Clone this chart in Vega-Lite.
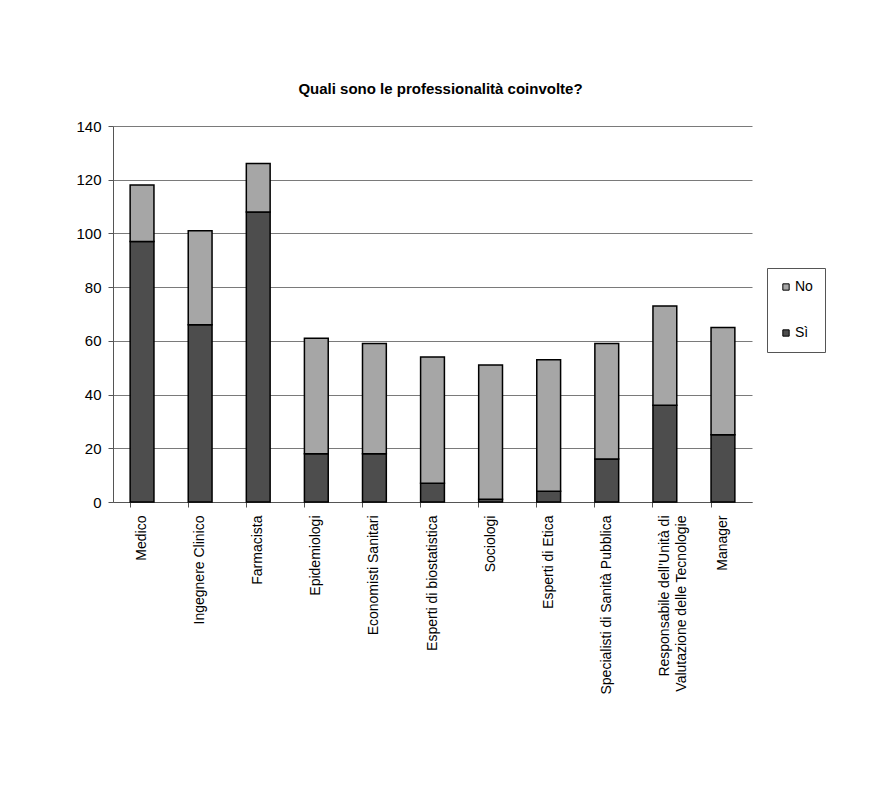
{
  "$schema": "https://vega.github.io/schema/vega-lite/v6.json",
  "autosize": {"type": "none"},
  "width": 639,
  "height": 376,
  "padding": {"left": 113, "top": 126, "right": 122, "bottom": 291},
  "background": "white",
  "title": {
    "text": "Quali sono le professionalità coinvolte?",
    "font": "Liberation Sans",
    "fontSize": 15,
    "fontWeight": "bold",
    "color": "black",
    "anchor": "middle",
    "offset": 22,
    "dx": 8
  },
  "config": {
    "view": {"stroke": null},
    "font": "Liberation Sans"
  },
  "data": {
    "values": [
      {"categoria": "Medico", "serie": "Sì", "valore": 97},
      {"categoria": "Medico", "serie": "No", "valore": 21},
      {"categoria": "Ingegnere Clinico", "serie": "Sì", "valore": 66},
      {"categoria": "Ingegnere Clinico", "serie": "No", "valore": 35},
      {"categoria": "Farmacista", "serie": "Sì", "valore": 108},
      {"categoria": "Farmacista", "serie": "No", "valore": 18},
      {"categoria": "Epidemiologi", "serie": "Sì", "valore": 18},
      {"categoria": "Epidemiologi", "serie": "No", "valore": 43},
      {"categoria": "Economisti Sanitari", "serie": "Sì", "valore": 18},
      {"categoria": "Economisti Sanitari", "serie": "No", "valore": 41},
      {"categoria": "Esperti di biostatistica", "serie": "Sì", "valore": 7},
      {"categoria": "Esperti di biostatistica", "serie": "No", "valore": 47},
      {"categoria": "Sociologi", "serie": "Sì", "valore": 1},
      {"categoria": "Sociologi", "serie": "No", "valore": 50},
      {"categoria": "Esperti di Etica", "serie": "Sì", "valore": 4},
      {"categoria": "Esperti di Etica", "serie": "No", "valore": 49},
      {"categoria": "Specialisti di Sanità Pubblica", "serie": "Sì", "valore": 16},
      {"categoria": "Specialisti di Sanità Pubblica", "serie": "No", "valore": 43},
      {"categoria": "Responsabile dell’Unità di|Valutazione delle Tecnologie", "serie": "Sì", "valore": 36},
      {"categoria": "Responsabile dell’Unità di|Valutazione delle Tecnologie", "serie": "No", "valore": 37},
      {"categoria": "Manager", "serie": "Sì", "valore": 25},
      {"categoria": "Manager", "serie": "No", "valore": 40}
    ]
  },
  "mark": {"type": "bar", "stroke": "black", "strokeWidth": 1.5},
  "encoding": {
    "x": {
      "field": "categoria",
      "type": "nominal",
      "sort": null,
      "scale": {"paddingInner": 0.59, "paddingOuter": 0.295},
      "axis": {
        "title": null,
        "labelAngle": -90,
        "labelAlign": "right",
        "labelBaseline": "middle",
        "labelFontSize": 14,
        "labelColor": "black",
        "labelPadding": 8,
        "labelExpr": "split(datum.value, '|')",
        "labelLineHeight": 17,
        "bandPosition": 0,
        "tickColor": "#555",
        "tickSize": 5,
        "domainColor": "#555",
        "grid": false
      }
    },
    "y": {
      "field": "valore",
      "type": "quantitative",
      "stack": "zero",
      "scale": {"domain": [0, 140]},
      "axis": {
        "title": null,
        "values": [0, 20, 40, 60, 80, 100, 120, 140],
        "labelFontSize": 15,
        "labelColor": "black",
        "labelPadding": 7,
        "tickColor": "#555",
        "tickSize": 5,
        "domainColor": "#555",
        "gridColor": "#7a7a7a",
        "gridWidth": 1
      }
    },
    "color": {
      "field": "serie",
      "type": "nominal",
      "scale": {"domain": ["No", "Sì"], "range": ["#a6a6a6", "#4d4d4d"]},
      "legend": {
        "title": null,
        "orient": "none",
        "legendX": 654,
        "legendY": 142,
        "direction": "vertical",
        "strokeColor": "#555",
        "fillColor": "white",
        "padding": 12,
        "rowPadding": 32,
        "symbolType": "square",
        "symbolSize": 40,
        "symbolStrokeColor": "black",
        "symbolStrokeWidth": 1,
        "labelFontSize": 14,
        "labelColor": "black",
        "labelOffset": 2
      }
    },
    "order": {"field": "serie", "sort": "descending"}
  }
}
